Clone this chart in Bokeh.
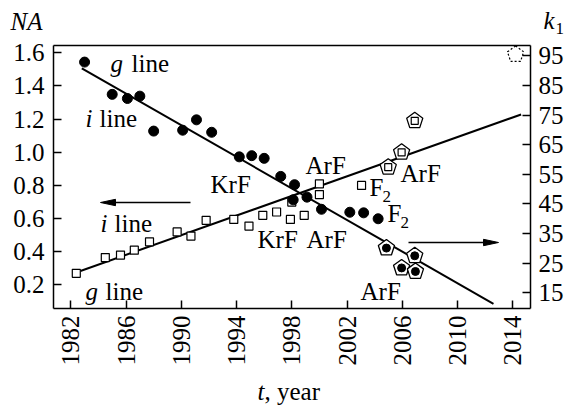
import math
from bokeh.plotting import figure
from bokeh.models import Range1d, LinearAxis, FixedTicker, Label
from bokeh.embed import file_html
from bokeh.resources import INLINE

# ---------------- data ----------------
# NA of lenses (open squares, left axis)
sq_year = [1982.4, 1984.5, 1985.6, 1986.6, 1987.7, 1989.7, 1990.7, 1991.8, 1993.8,
           1994.9, 1995.9, 1996.9, 1997.9, 1998.0, 1998.9, 2000.0, 2000.0, 2003.05]
sq_na = [0.27, 0.365, 0.38, 0.41, 0.46, 0.52, 0.495, 0.59, 0.595,
         0.555, 0.62, 0.64, 0.595, 0.70, 0.62, 0.81, 0.745, 0.80]
# k1 factor (filled circles, right axis)
dot_year = [1983.0, 1985.0, 1986.1, 1987.0, 1988.0, 1990.1, 1991.1, 1992.2, 1994.2,
            1995.1, 1996.0, 1997.2, 1998.2, 1998.1, 1999.1, 2000.15, 2002.2, 2003.2, 2004.25]
dot_k1 = [92.9, 82.0, 80.6, 81.4, 69.6, 69.9, 73.4, 69.2, 60.9,
          61.3, 60.4, 54.3, 51.5, 46.4, 47.3, 43.2, 42.2, 42.0, 40.0]
# immersion ArF (pentagons)
imm_k1_year = [2004.85, 2006.9, 2005.95, 2006.95]
imm_k1 = [30.1, 27.5, 23.4, 22.2]
imm_na_year = [2004.98, 2005.95, 2006.9]
imm_na = [0.91, 1.0, 1.19]
future_year = [2014.2]
future_na = [1.59]
# trend lines
na_fit_year = [1982.7, 2014.6]
na_fit = [0.284, 1.228]
k1_fit_year = [1982.8, 2012.6]
k1_fit = [90.8, 11.3]
# ticks
year_ticks = [1982, 1986, 1990, 1994, 1998, 2002, 2006, 2010, 2014]
na_ticks = [0.2, 0.4, 0.6, 0.8, 1.0, 1.2, 1.4, 1.6]
na_tick_labels = ["0.2", "0.4", "0.6", "0.8", "1.0", "1.2", "1.4", "1.6"]
k1_ticks = [15, 25, 35, 45, 55, 65, 75, 85, 95]

# ---------------- layout ----------------
W, H = 564, 408
FL, FR, FT, FB = 53, 530, 45, 308          # plot box in page pixels
X0, X1 = 1980.75, 2015.28                  # years at box left / right
NA0, NA1 = 0.058, 1.644                    # NA at box bottom / top
K0, K1 = 9.7, 98.5                         # k1 at box bottom / top
FONT = "Liberation Serif"
FS = 25

PX_X = (X1 - X0) / (FR - FL)
PX_NA = (NA1 - NA0) / (FB - FT)
PX_K = (K1 - K0) / (FB - FT)

# the frame covers the whole page; axes sit at fixed locations on the box
p = figure(width=W, height=H,
           x_range=Range1d(X0 - FL * PX_X, X1 + (W - FR) * PX_X),
           y_range=Range1d(NA0 - (H - FB) * PX_NA, NA1 + FT * PX_NA),
           x_axis_type=None, y_axis_type=None,
           output_backend="svg", toolbar_location=None, min_border=0)
p.extra_y_ranges = {"k1": Range1d(K0 - (H - FB) * PX_K, K1 + FT * PX_K)}
p.outline_line_color = None
p.background_fill_color = "white"
p.border_fill_color = "white"

xax = LinearAxis(ticker=FixedTicker(ticks=year_ticks), fixed_location=NA0,
                 bounds=(X0, X1), major_label_orientation=math.pi / 2)
lax = LinearAxis(ticker=FixedTicker(ticks=na_ticks), fixed_location=X0,
                 bounds=(NA0, NA1),
                 major_label_overrides={t: s for t, s in zip(na_ticks, na_tick_labels)})
rax = LinearAxis(y_range_name="k1", ticker=FixedTicker(ticks=k1_ticks),
                 fixed_location=X1, bounds=(K0, K1))
tax = LinearAxis(ticker=FixedTicker(ticks=[]), fixed_location=NA1, bounds=(X0, X1),
                 major_label_text_font_size="0px")
p.add_layout(xax, "below")
p.add_layout(lax, "left")
p.add_layout(rax, "right")
p.add_layout(tax, "above")

for ax, st in ((xax, 7), (lax, 9), (rax, 8), (tax, 0)):
    ax.axis_line_width = 1.5
    ax.axis_line_color = "black"
    ax.major_tick_line_width = 1.5
    ax.major_tick_line_color = "black"
    ax.major_tick_in = 8
    ax.major_tick_out = 0
    ax.minor_tick_line_color = None
    ax.major_label_text_font = FONT
    ax.major_label_text_color = "black"
    ax.major_label_standoff = st
    if ax is not tax:
        ax.major_label_text_font_size = f"{FS}px"

def xd(px):
    return X0 + (px - FL) * PX_X

def yd(py):
    return NA1 - (py - FT) * PX_NA

def pentagons(xs, ys, per_px, r=8.5):
    pxs, pys = [], []
    for x, y in zip(xs, ys):
        angs = [math.radians(90 + 72 * k) for k in range(5)]
        pxs.append([x + r * math.cos(a) * PX_X for a in angs])
        pys.append([y + r * math.sin(a) * per_px for a in angs])
    return pxs, pys

# ---------------- marks ----------------
p.line(na_fit_year, na_fit, line_color="black", line_width=2)
p.line(k1_fit_year, k1_fit, line_color="black", line_width=2, y_range_name="k1")

p.scatter(sq_year, sq_na, marker="square", size=8, fill_color="white",
          line_color="black", line_width=1.2)
p.scatter(dot_year, dot_k1, marker="circle", size=10, fill_color="black",
          line_color="black", y_range_name="k1")

xs, ys = pentagons(imm_na_year, imm_na, PX_NA)
p.patches(xs, ys, fill_color="white", line_color="black", line_width=1.3)
p.scatter(imm_na_year, imm_na, marker="square", size=7, fill_color="white",
          line_color="black", line_width=1.2)
xs, ys = pentagons(imm_k1_year, imm_k1, PX_K)
p.patches(xs, ys, fill_color="white", line_color="black", line_width=1.3,
          y_range_name="k1")
p.scatter(imm_k1_year, imm_k1, marker="circle", size=8, fill_color="black",
          line_color="black", y_range_name="k1")
xs, ys = pentagons(future_year, future_na, PX_NA)
p.patches(xs, ys, fill_color=None, line_color="black", line_width=1.2,
          line_dash="2 2")

# ---------------- annotations ----------------
def arrow(tail, tip, y):
    d = 1 if tip > tail else -1
    base = tip - d * 15
    p.line([xd(tail), xd(base)], [yd(y), yd(y)], line_color="black", line_width=1.5)
    p.patch([xd(tip), xd(base), xd(base)], [yd(y), yd(y - 3.2), yd(y + 3.2)],
            fill_color="black", line_color="black", line_width=1)

arrow(190, 100, 202)
arrow(408, 498, 242)

def lab(text, x, y, size=FS, italic=False):
    # x, y: page pixels of the text's left end and baseline
    y = y - 0.28 * size
    p.add_layout(Label(x=x, y=H - y, x_units="screen", y_units="screen",
                       text=text, text_font=FONT, text_font_size=f"{size}px",
                       text_font_style="italic" if italic else "normal",
                       text_color="black", text_align="left",
                       text_baseline="alphabetic"))

# axis titles
lab("NA", 10, 28, italic=True)
lab("k", 543, 27, italic=True)
lab("1", 555, 33, size=17)
lab("t", 257, 398, italic=True)
lab(", year", 264, 398)

# in-plot labels
lab("g", 110, 70, italic=True)
lab("line", 131, 70)
lab("i", 85, 125, italic=True)
lab("line", 99, 125)
lab("KrF", 210, 191)
lab("i", 100, 230, italic=True)
lab("line", 114, 230)
lab("g", 85, 298, italic=True)
lab("line", 105, 298)
lab("KrF", 257, 246)
lab("ArF", 306, 246)
lab("ArF", 305, 172)
lab("F", 369, 194)
lab("2", 382, 201, size=17)
lab("F", 387, 220)
lab("2", 400, 227, size=17)
lab("ArF", 400, 180)
lab("ArF", 360, 298)

open("out.html", "w").write(file_html(p, INLINE))
